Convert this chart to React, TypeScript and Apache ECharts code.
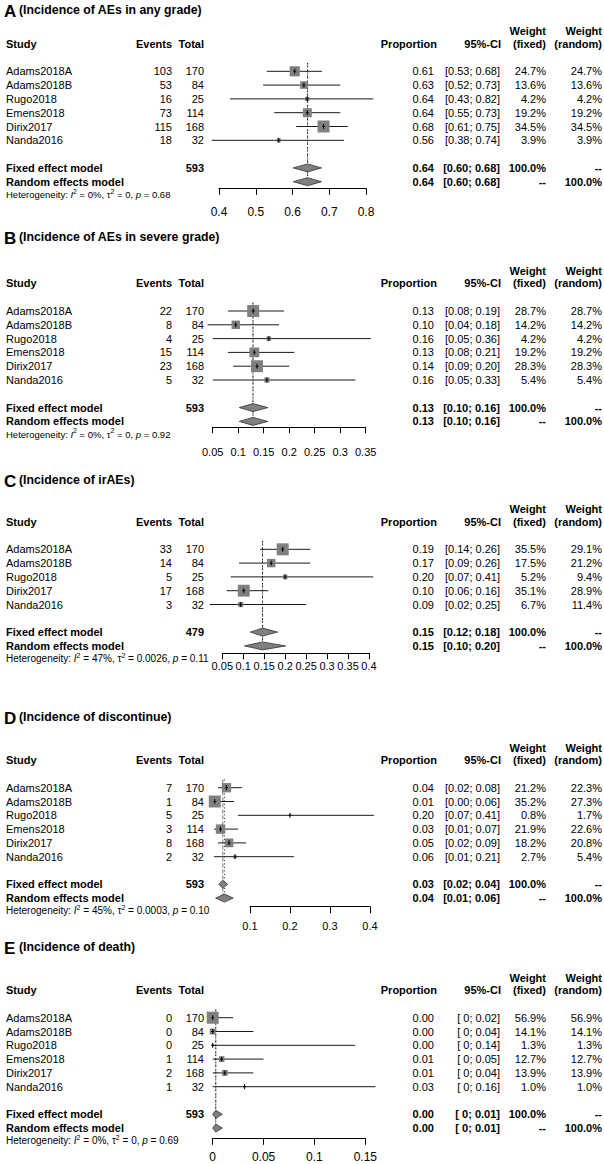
import React, { useEffect, useRef } from "react";
import * as echarts from "echarts";

const FONT = "'Liberation Sans', Arial, Helvetica, sans-serif";

// ---------- data ----------
const studies6 = ["Adams2018A", "Adams2018B", "Rugo2018", "Emens2018", "Dirix2017", "Nanda2016"];
const studies5 = ["Adams2018A", "Adams2018B", "Rugo2018", "Dirix2017", "Nanda2016"];
const totals6 = [170, 84, 25, 114, 168, 32];
const totals5 = [170, 84, 25, 168, 32];

// A
const eventsA = [103, 53, 16, 73, 115, 18];
const propA = [0.606, 0.631, 0.64, 0.6404, 0.6845, 0.5625];
const loA = [0.53, 0.52, 0.43, 0.55, 0.61, 0.38];
const hiA = [0.68, 0.73, 0.82, 0.73, 0.75, 0.74];
const wFixA = [24.7, 13.6, 4.2, 19.2, 34.5, 3.9];
const wRanA = [24.7, 13.6, 4.2, 19.2, 34.5, 3.9];
const fixedA = [0.641, 0.602, 0.679];
const randomA = [0.641, 0.602, 0.679];
const hetA = ["0%", "0", "0.68"];
const ticksA = [0.4, 0.5, 0.6, 0.7, 0.8];

// B
const eventsB = [22, 8, 4, 15, 23, 5];
const propB = [0.1294, 0.0952, 0.16, 0.1316, 0.1369, 0.1563];
const loB = [0.08, 0.04, 0.05, 0.08, 0.09, 0.05];
const hiB = [0.19, 0.18, 0.36, 0.21, 0.2, 0.33];
const wFixB = [28.7, 14.2, 4.2, 19.2, 28.3, 5.4];
const wRanB = [28.7, 14.2, 4.2, 19.2, 28.3, 5.4];
const fixedB = [0.129, 0.102, 0.158];
const randomB = [0.129, 0.102, 0.158];
const hetB = ["0%", "0", "0.92"];
const ticksB = [0.05, 0.1, 0.15, 0.2, 0.25, 0.3, 0.35];

// C
const eventsC = [33, 14, 5, 17, 3];
const propC = [0.1941, 0.1667, 0.2, 0.1012, 0.0938];
const loC = [0.14, 0.09, 0.07, 0.06, 0.02];
const hiC = [0.26, 0.26, 0.41, 0.16, 0.25];
const wFixC = [35.5, 17.5, 5.2, 35.1, 6.7];
const wRanC = [29.1, 21.2, 9.4, 28.9, 11.4];
const fixedC = [0.146, 0.117, 0.182];
const randomC = [0.146, 0.103, 0.201];
const hetC = ["47%", "0.0026", "0.11"];
const ticksC = [0.05, 0.1, 0.15, 0.2, 0.25, 0.3, 0.35, 0.4];

// D
const eventsD = [7, 1, 5, 3, 8, 2];
const propD = [0.0412, 0.0119, 0.2, 0.0263, 0.0476, 0.0625];
const loD = [0.02, 0.0, 0.07, 0.01, 0.02, 0.01];
const hiD = [0.08, 0.06, 0.41, 0.07, 0.09, 0.21];
const wFixD = [21.2, 35.2, 0.8, 21.9, 18.2, 2.7];
const wRanD = [22.3, 27.3, 1.7, 22.6, 20.8, 5.4];
const fixedD = [0.032, 0.022, 0.044];
const randomD = [0.036, 0.014, 0.058];
const hetD = ["45%", "0.0003", "0.10"];
const ticksD = [0.1, 0.2, 0.3, 0.4];

// E
const eventsE = [0, 0, 0, 1, 2, 1];
const propE = [0, 0, 0, 0.0088, 0.0119, 0.0313];
const loE = [0, 0, 0, 0, 0, 0];
const hiE = [0.02, 0.04, 0.14, 0.05, 0.04, 0.16];
const wFixE = [56.9, 14.1, 1.3, 12.7, 13.9, 1.0];
const wRanE = [56.9, 14.1, 1.3, 12.7, 13.9, 1.0];
const fixedE = [0.003, 0, 0.0095];
const randomE = [0.003, 0, 0.0095];
const hetE = ["0%", "0", "0.69"];
const ticksE = [0, 0.05, 0.1, 0.15];

const lettersList = ["A", "B", "C", "D", "E"];
const subtitles = [
  "(Incidence of AEs in any grade)",
  "(Incidence of AEs in severe grade)",
  "(Incidence of irAEs)",
  "(Incidence of discontinue)",
  "(Incidence of death)",
];
const fixedTotals = [593, 593, 479, 593, 593];

const panels = [
  { studies: studies6, events: eventsA, totals: totals6, prop: propA, lo: loA, hi: hiA, wFix: wFixA, wRan: wRanA, fixed: fixedA, random: randomA, het: hetA, ticks: ticksA, zeroInt: false },
  { studies: studies6, events: eventsB, totals: totals6, prop: propB, lo: loB, hi: hiB, wFix: wFixB, wRan: wRanB, fixed: fixedB, random: randomB, het: hetB, ticks: ticksB, zeroInt: false },
  { studies: studies5, events: eventsC, totals: totals5, prop: propC, lo: loC, hi: hiC, wFix: wFixC, wRan: wRanC, fixed: fixedC, random: randomC, het: hetC, ticks: ticksC, zeroInt: false },
  { studies: studies6, events: eventsD, totals: totals6, prop: propD, lo: loD, hi: hiD, wFix: wFixD, wRan: wRanD, fixed: fixedD, random: randomD, het: hetD, ticks: ticksD, zeroInt: false },
  { studies: studies6, events: eventsE, totals: totals6, prop: propE, lo: loE, hi: hiE, wFix: wFixE, wRan: wRanE, fixed: fixedE, random: randomE, het: hetE, ticks: ticksE, zeroInt: true },
];

// ---------- layout (pixels) ----------
const RH = 13.8;
const layouts = [
  { titleY: 10, row1: 71.3, axisY: 188.3, x0: 219, x1: 366, labelMargin: 18, labelSize: 12, hetSize: 9.5 },
  { titleY: 237, row1: 311, axisY: 426.8, x0: 212.7, x1: 365.7, labelMargin: 20, labelSize: 11, hetSize: 9.5 },
  { titleY: 480, row1: 549.3, axisY: 652.8, x0: 222.3, x1: 369, labelMargin: 8, labelSize: 11, hetSize: 10 },
  { titleY: 717, row1: 787.7, axisY: 906.7, x0: 250, x1: 370, labelMargin: 14, labelSize: 11, hetSize: 10 },
  { titleY: 947, row1: 1017.7, axisY: 1138.3, x0: 212.7, x1: 365.3, labelMargin: 13, labelSize: 12, hetSize: 10 },
];
const COL = { study: 6, events: 172, total: 204, prop: 434, propHead: 437, ci: 500, ciHead: 501, wFix: 546, wRan: 602 };
const SQ = 12;
const FS = 11;

function T(x: number, y: number, text: string, align = "left", bold = false, size = FS) {
  return {
    type: "text",
    x,
    y,
    silent: true,
    style: {
      text,
      fill: "#000",
      fontSize: size,
      fontFamily: FONT,
      fontWeight: bold ? "bold" : "normal",
      align,
      verticalAlign: "middle",
    },
  };
}

function fmtCI(lo: number, hi: number, zeroInt: boolean) {
  const f = (v: number) => (zeroInt && v === 0 ? " 0" : v.toFixed(2));
  return "[" + f(lo) + "; " + f(hi) + "]";
}

function buildOption() {
  const grid: any[] = [];
  const xAxis: any[] = [];
  const yAxis: any[] = [];
  const series: any[] = [];
  const graphic: any[] = [];

  panels.forEach((p, k) => {
    const L = layouts[k];
    const n = p.studies.length;
    const rowY = (r: number) => L.row1 + r * RH;
    const maxW = Math.max(...p.wFix);

    grid.push({ left: L.x0, top: L.row1, width: L.x1 - L.x0, height: L.axisY - L.row1 });
    xAxis.push({
      gridIndex: k,
      type: "value",
      position: "bottom",
      min: p.ticks[0],
      max: p.ticks[p.ticks.length - 1],
      interval: +(p.ticks[1] - p.ticks[0]).toFixed(4),
      axisLine: { show: true, onZero: false, lineStyle: { color: "#000", width: 1 } },
      axisTick: { show: true, length: 6.5, inside: false, lineStyle: { color: "#000", width: 1 } },
      axisLabel: {
        show: true,
        color: "#000",
        fontSize: L.labelSize,
        fontFamily: FONT,
        margin: L.labelMargin,
        formatter: (v: number) => String(+v.toFixed(3)),
      },
      splitLine: { show: false },
    });
    yAxis.push({ gridIndex: k, type: "value", min: 0, max: (L.axisY - L.row1) / RH, inverse: true, show: false });

    // reference lines (fixed: gray dashed, random: black dotted)
    series.push({
      type: "custom",
      xAxisIndex: k,
      yAxisIndex: k,
      clip: false,
      silent: true,
      data: [
        [p.fixed[0], n + 2],
        [p.random[0], n + 2],
      ],
      renderItem: (params: any, api: any) => {
        const top = api.coord([api.value(0), -0.6]);
        const bot = api.coord([api.value(0), api.value(1)]);
        const isFixed = params.dataIndex === 0;
        return {
          type: "line",
          shape: { x1: top[0], y1: top[1], x2: bot[0], y2: bot[1] },
          style: isFixed
            ? { stroke: "#7a7a7a", lineWidth: 1, lineDash: [4, 2] }
            : { stroke: "#111", lineWidth: 1, lineDash: [1, 2.5] },
        };
      },
    });

    // study rows
    series.push({
      type: "custom",
      xAxisIndex: k,
      yAxisIndex: k,
      clip: false,
      silent: true,
      z: 3,
      data: p.studies.map((_, i) => [p.prop[i], i]),
      renderItem: (params: any, api: any) => {
        const i = params.dataIndex;
        const pe = api.coord([api.value(0), api.value(1)]);
        const xl = api.coord([p.lo[i], i])[0];
        const xh = api.coord([p.hi[i], i])[0];
        const xe = pe[0];
        const y = pe[1];
        const s = SQ * Math.sqrt(p.wFix[i] / maxW);
        return {
          type: "group",
          children: [
            { type: "line", shape: { x1: xl, y1: y, x2: xh, y2: y }, style: { stroke: "#1a1a1a", lineWidth: 1 } },
            { type: "rect", shape: { x: xe - s / 2, y: y - s / 2, width: s, height: s }, style: { fill: "#808080" } },
            { type: "line", shape: { x1: xe, y1: y - 2.5, x2: xe, y2: y + 2.5 }, style: { stroke: "#000", lineWidth: 1 } },
            { type: "line", shape: { x1: xe - 1.5, y1: y, x2: xe + 1.5, y2: y }, style: { stroke: "#000", lineWidth: 1 } },
            T(COL.study, y, p.studies[i], "left"),
            T(COL.events, y, String(p.events[i]), "right"),
            T(COL.total, y, String(p.totals[i]), "right"),
            T(COL.prop, y, p.prop[i].toFixed(2), "right"),
            T(COL.ci, y, fmtCI(p.lo[i], p.hi[i], p.zeroInt), "right"),
            T(COL.wFix, y, p.wFix[i].toFixed(1) + "%", "right"),
            T(COL.wRan, y, p.wRan[i].toFixed(1) + "%", "right"),
          ],
        };
      },
    });

    // summary rows
    const summ = [p.fixed, p.random];
    series.push({
      type: "custom",
      xAxisIndex: k,
      yAxisIndex: k,
      clip: false,
      silent: true,
      z: 3,
      data: [
        [p.fixed[0], n + 1],
        [p.random[0], n + 2],
      ],
      renderItem: (params: any, api: any) => {
        const j = params.dataIndex;
        const sv = summ[j];
        const r = api.value(1);
        const pe = api.coord([api.value(0), r]);
        const xl = api.coord([sv[1], r])[0];
        const xh = api.coord([sv[2], r])[0];
        const y = pe[1];
        const h = 4;
        const isFixed = j === 0;
        const children: any[] = [
          {
            type: "polygon",
            shape: { points: [[xl, y], [pe[0], y - h], [xh, y], [pe[0], y + h]] },
            style: { fill: "#808080", stroke: "#333", lineWidth: 0.8 },
          },
          T(COL.study, y, isFixed ? "Fixed effect model" : "Random effects model", "left", true),
          T(COL.prop, y, sv[0].toFixed(2), "right", true),
          T(COL.ci, y, fmtCI(sv[1], sv[2], p.zeroInt), "right", true),
          T(COL.wFix, y, isFixed ? "100.0%" : "--", "right", true),
          T(COL.wRan, y, isFixed ? "--" : "100.0%", "right", true),
        ];
        if (isFixed) children.push(T(COL.total, y, String(fixedTotals[k]), "right", true));
        return { type: "group", children };
      },
    });

    // titles, headers, heterogeneity
    const hy = rowY(-2);
    graphic.push(T(4, L.titleY + 1, lettersList[k], "left", true, 17));
    graphic.push(T(19, L.titleY - 0.5, subtitles[k], "left", true, 12.3));
    graphic.push(T(COL.study, hy, "Study", "left", true));
    graphic.push(T(COL.events, hy, "Events", "right", true));
    graphic.push(T(COL.total, hy, "Total", "right", true));
    graphic.push(T(COL.propHead, hy, "Proportion", "right", true));
    graphic.push(T(COL.ciHead, hy, "95%-CI", "right", true));
    graphic.push(T(COL.wFix, hy - 12.3, "Weight", "right", true));
    graphic.push(T(COL.wRan, hy - 12.3, "Weight", "right", true));
    graphic.push(T(COL.wFix, hy, "(fixed)", "right", true));
    graphic.push(T(COL.wRan, hy, "(random)", "right", true));

    const [i2, tau2, pv] = p.het;
    const hs = L.hetSize;
    graphic.push({
      type: "text",
      x: COL.study,
      y: rowY(n + 3) - 1,
      silent: true,
      style: {
        text: `{n|Heterogeneity: }{i|I}{s|2}{n| = ${i2}, τ}{s|2}{n| = ${tau2}, }{i|p}{n| = ${pv}}`,
        align: "left",
        verticalAlign: "middle",
        fontFamily: FONT,
        fontSize: hs,
        fill: "#000",
        rich: {
          n: { fontSize: hs, fontFamily: FONT, fill: "#000", lineHeight: 14 },
          i: { fontSize: hs, fontFamily: FONT, fill: "#000", fontStyle: "italic", lineHeight: 14 },
          s: { fontSize: 7, fontFamily: FONT, fill: "#000", lineHeight: 8, verticalAlign: "top" },
        },
      },
    });
  });

  return {
    animation: false,
    backgroundColor: "#fff",
    grid,
    xAxis,
    yAxis,
    series,
    graphic: { elements: graphic },
  };
}

export default function App() {
  const ref = useRef<HTMLDivElement>(null);
  useEffect(() => {
    const chart = echarts.init(ref.current!, undefined, { renderer: "svg" });
    chart.setOption(buildOption() as any);
    return () => chart.dispose();
  }, []);
  return (
    <div
      ref={ref}
      style={{ position: "absolute", left: 0, top: 0, width: 604, height: 1164, background: "#fff" }}
    />
  );
}
